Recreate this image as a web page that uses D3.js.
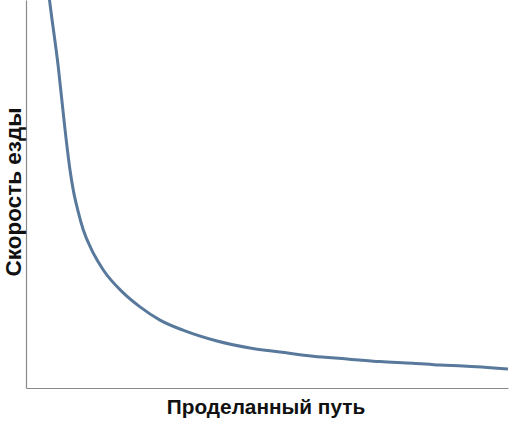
<!DOCTYPE html>
<html lang="ru">
<head>
  <meta charset="UTF-8">
  <title>Скорость езды / Проделанный путь</title>
  <script src="https://d3js.org/d3.v7.min.js"></script>
  <style>
    html, body { margin: 0; background: #fff; }
    .axis path { stroke: #8a8a8a; stroke-width: 1.2px; }
    .axis-label { font-family: "Liberation Sans", Arial, sans-serif; font-weight: bold; font-size: 20.8px; fill: #111; }
    .y-label { font-size: 22.5px; }
    .curve { fill: none; stroke: #58799b; stroke-width: 3px; }
  </style>
</head>
<body>
  <svg width="515" height="423"></svg>
  <script>
    // пройденный путь (условные единицы, 0..100)
    const distance = [4.63, 4.88, 6.70, 7.99, 9.13, 9.81, 10.73, 11.89, 13.63, 16.04, 20.19, 23.65,
                      27.80, 32.57, 39.63, 46.47, 52.70, 59.54, 66.60, 73.44, 80.29, 85.89, 90.66, 100];
    // скорость езды (условные единицы, 0..100)
    const speed = [102.6, 100, 82.7, 67.8, 56.2, 51.0, 45.9, 40.7, 35.6, 30.4, 24.5, 20.9,
                   17.5, 14.9, 12.1, 10.3, 9.3, 8.2, 7.5, 6.8, 6.4, 5.9, 5.7, 4.9];

    const xTitle = "Проделанный путь";
    const yTitle = "Скорость езды";

    const margin = { top: 0, right: 6, bottom: 35, left: 26 };
    const width = 515 - margin.left - margin.right;
    const height = 423 - margin.top - margin.bottom;

    const svg = d3.select("svg")
      .append("g")
      .attr("transform", `translate(${margin.left}, ${margin.top})`);

    const x = d3.scaleLinear().domain([0, 100]).range([0, width - 1]);
    const y = d3.scaleLinear().domain([0, 100]).range([height, 0]);

    svg.append("defs").append("clipPath").attr("id", "plot")
      .append("rect").attr("x", 0).attr("y", 0).attr("width", width).attr("height", height);

    svg.append("g")
      .attr("class", "axis")
      .attr("transform", `translate(0, ${height})`)
      .call(d3.axisBottom(x).ticks(0).tickSize(0).tickSizeOuter(0));

    svg.append("g")
      .attr("class", "axis")
      .call(d3.axisLeft(y).ticks(0).tickSize(0).tickSizeOuter(0));

    const points = distance.map((d, i) => [d, speed[i]]);

    const line = d3.line()
      .x(d => x(d[0]))
      .y(d => y(d[1]))
      .curve(d3.curveMonotoneX);

    svg.append("path")
      .datum(points)
      .attr("class", "curve")
      .attr("clip-path", "url(#plot)")
      .attr("d", line);

    // подписи осей
    svg.append("text")
      .attr("class", "axis-label")
      .attr("x", 266 - margin.left)
      .attr("y", 414)
      .style("text-anchor", "middle")
      .text(xTitle);

    svg.append("text")
      .attr("class", "axis-label y-label")
      .attr("transform", `translate(${21 - margin.left}, 192) rotate(-90)`)
      .style("text-anchor", "middle")
      .text(yTitle);
  </script>
</body>
</html>
